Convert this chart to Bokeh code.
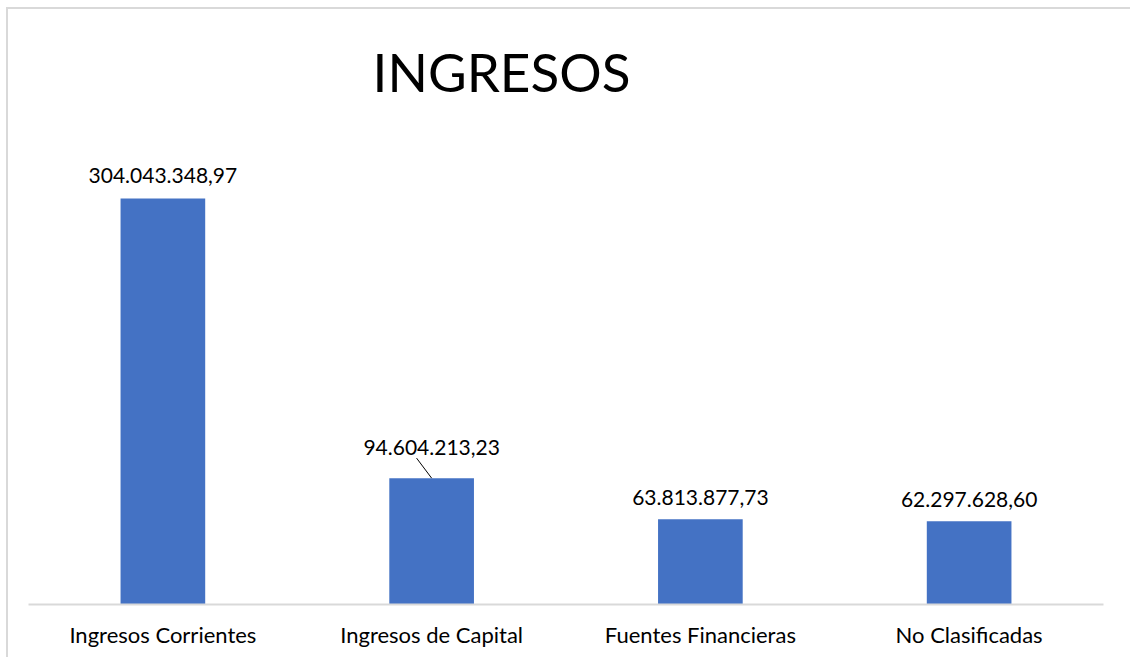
from bokeh.plotting import figure
from bokeh.layouts import column
from bokeh.models import ColumnDataSource, FactorRange, Range1d, Label
from bokeh.transform import dodge
from bokeh.core.properties import value
from bokeh.embed import file_html
from bokeh.resources import INLINE

categories = ["Ingresos Corrientes", "Ingresos de Capital", "Fuentes Financieras", "No Clasificadas"]
values = [304043348.97, 94604213.23, 63813877.73, 62297628.60]
title_text = "INGRESOS"

def fmt(v):
    s = f"{v:,.2f}"
    return s.replace(",", "X").replace(".", ",").replace("X", ".")

labels = [fmt(v) for v in values]
label_offsets = [-23, -31, -22, -22]

FONT = "Lato"

src = ColumnDataSource(dict(cat=categories, val=values, label=labels, off=label_offsets))

p = figure(x_range=FactorRange(*categories), y_range=Range1d(0, 441e6),
           width=1124, height=650, output_backend="svg", toolbar_location=None,
           y_axis_location=None, min_border_left=20, min_border_right=29,
           min_border_top=6, min_border_bottom=55)
p.styles = {"border-left": "2px solid #d9d9d9", "border-top": "2px solid #d9d9d9"}
p.outline_line_color = None
p.xgrid.visible = False
p.ygrid.visible = False
p.background_fill_color = "white"
p.border_fill_color = "white"

p.vbar(x="cat", top="val", width=0.315, source=src, color="#4472C4", line_color=None)

p.text(x="cat", y="val", text="label", y_offset="off", source=src,
       text_align="center", text_baseline="alphabetic",
       text_font=value(FONT), text_font_size="21px", text_color="#000000")

# leader line for the second label
lead_src = ColumnDataSource(dict(cat=categories[1:2], val=values[1:2], lead=[values[1] + 15e6]))
p.segment(x0="cat", y0="val", x1=dodge("cat", -0.056, range=p.x_range), y1="lead",
          source=lead_src, line_color="#000000", line_width=1)

p.add_layout(Label(x=473, y=533, x_units="screen", y_units="screen", text=title_text,
                   text_align="center", text_baseline="alphabetic",
                   text_font=FONT, text_font_size="53px", text_color="#000000"))

ax = p.xaxis[0]
ax.axis_line_color = "#d9d9d9"
ax.axis_line_width = 2
ax.major_tick_line_color = None
ax.minor_tick_line_color = None
ax.major_label_text_font = FONT
ax.major_label_text_font_size = "22px"
ax.major_label_text_color = "#000000"
ax.major_label_standoff = 10

root = column(p, styles={"padding-left": "6px", "padding-top": "7px", "background": "white"})

open("out.html", "w").write(file_html(root, INLINE))
